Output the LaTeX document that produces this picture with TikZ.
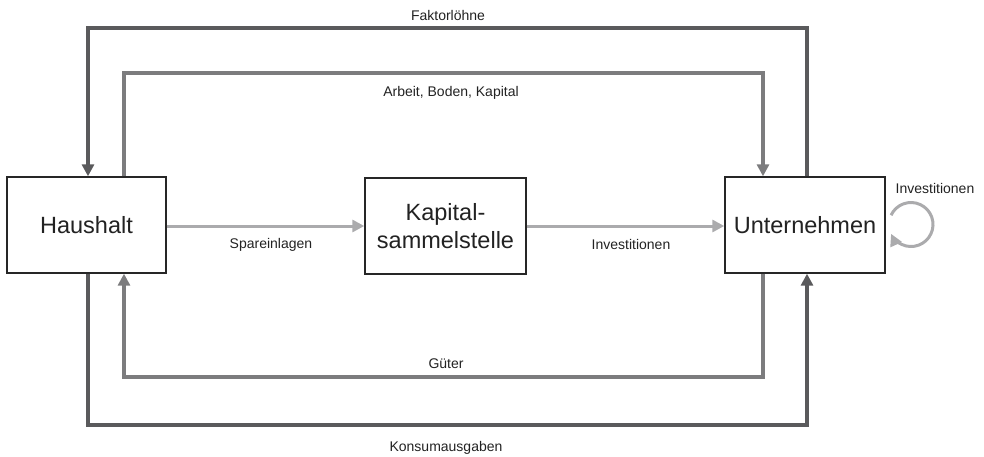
\documentclass[tikz,border=0pt]{standalone}
\usepackage{fontspec}
\setmainfont{Liberation Sans}
\usetikzlibrary{arrows.meta}
\definecolor{darkflow}{HTML}{5A5A5C}
\definecolor{midflow}{HTML}{7C7C7E}
\definecolor{lightflow}{HTML}{ABABAD}
\definecolor{txt}{HTML}{222222}
\tikzset{
  box/.style={draw=black!85, line width=1.4pt, fill=white, minimum width=159pt, minimum height=96pt, inner sep=0pt, align=center, font=\fontsize{23.5}{28}\selectfont, text=txt},
  lbl/.style={font=\fontsize{14}{16}\selectfont, text=txt, inner sep=0pt},
  tip/.style={-{Triangle[length=12pt,width=12pt]}},
  darkline/.style={draw=darkflow, line width=3.4pt},
  midline/.style={draw=midflow, line width=3.2pt},
  lightline/.style={draw=lightflow, line width=3pt},
}
\begin{document}
\begin{tikzpicture}[x=1pt,y=-1pt]
\useasboundingbox (0,0) rectangle (984,456);
\node[box] (h) at (86.5,225) {Haushalt};
\node[box, minimum width=161pt] (k) at (445.5,226) {Kapital-\\sammelstelle};
\node[box, minimum width=160pt] (u) at (805,225) {Unternehmen};

\coordinate (ft) at (448,28);
\coordinate (at) at (448,73);
\coordinate (gb) at (448,377);
\coordinate (kb) at (448,425);
\coordinate (lc) at (911,224.5);

% Faktorloehne
\draw[darkline, tip] ([xshift=2pt]u.north) |- (ft) -| ([xshift=1.5pt]h.north);
% Arbeit, Boden, Kapital
\draw[midline, tip] ([xshift=37.5pt]h.north) |- (at) -| ([xshift=-42pt]u.north);
% Gueter
\draw[midline, tip] ([xshift=-42pt]u.south) |- (gb) -| ([xshift=37.5pt]h.south);
% Konsumausgaben
\draw[darkline, tip] ([xshift=1.5pt]h.south) |- (kb) -| ([xshift=2pt]u.south);
% middle
\draw[lightline, tip] (h.east |- k.west) -- (k.west);
\draw[lightline, tip] (k.east) -- (k.east -| u.west);
% loop
\draw[lightline, tip] ([shift={(155:22pt)}]lc) arc[start angle=155, end angle=-155, radius=22pt];

\node[lbl] (l1) at (448,15) {Faktorlöhne};
\node[lbl] (l2) at (451,93) {Arbeit, Boden, Kapital};
\node[lbl] (l3) at (271,245) {Spareinlagen};
\node[lbl] (l4) at (631,244) {Investitionen};
\node[lbl] (l5) at (935,188) {Investitionen};
\node[lbl] (l6) at (446,364) {Güter};
\node[lbl] (l7) at (446,448) {Konsumausgaben};
\end{tikzpicture}
\end{document}
